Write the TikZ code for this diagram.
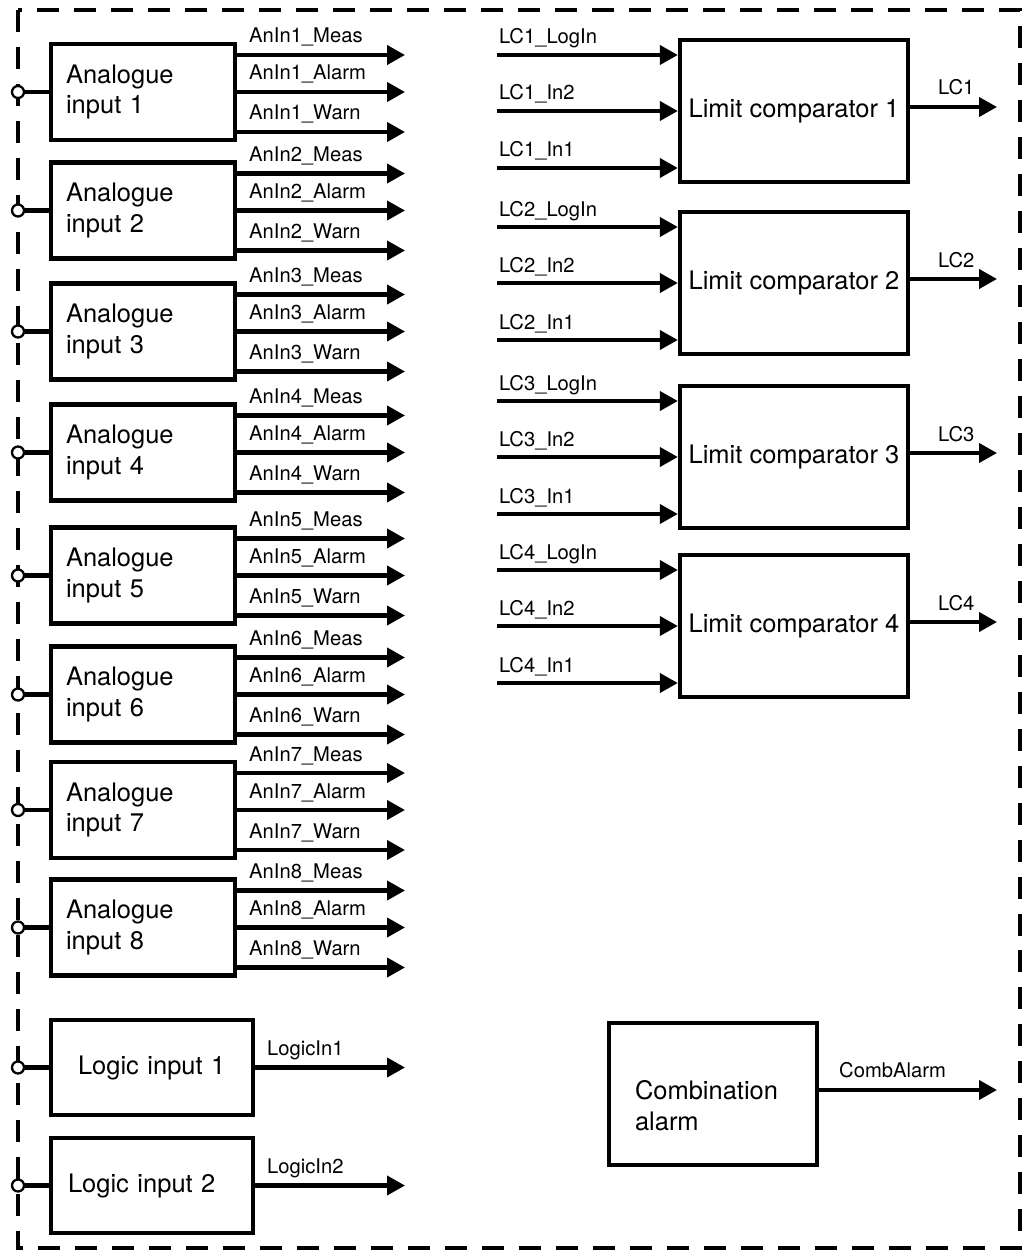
\documentclass[tikz,border=0pt]{standalone}
\usepackage{fontspec}
\setmainfont{TeX Gyre Heros}
\usetikzlibrary{arrows.meta}

\begin{document}
\begin{tikzpicture}[x=0.02cm, y=-0.02cm, line width=2.3pt,
  blk/.style={draw,line width=2.5pt,inner sep=0pt,font=\fontsize{14.5}{17.5}\selectfont},
  anbox/.style={blk,minimum width=3.68cm,minimum height=1.92cm,text width=3.08cm,align=left},
  lcbox/.style={blk,minimum width=4.56cm,minimum height=2.84cm,align=center},
  lgbox/.style={blk,minimum width=4.04cm,minimum height=1.9cm,align=center},
  sig/.style={-{Triangle[length=0.36cm,width=0.38cm]}},
  lbl/.style={anchor=base west,inner sep=0pt,font=\fontsize{11.5}{13}\selectfont},
  term/.style={circle,draw,fill=white,line width=1.3pt,inner sep=0pt,minimum size=0.24cm}]
\useasboundingbox (0,0) rectangle (1026,1253);
% frame of the unit
\draw[line width=2.8pt,dash pattern=on 0.44cm off 0.3cm] (18,10) rectangle (1020,1248);
% analogue inputs
\foreach \i/\y in {1/92,2/210.5,3/331.5,4/452.5,5/575.5,6/694.5,7/810,8/927.5}{
  \node[anbox] (a\i) at (143,\y) {Analogue\\input \i};
  \node[term] (t\i) at (18,\y) {};
  \draw (t\i) -- (a\i);
  \coordinate (am\i) at (405,\y-37);
  \coordinate (aa\i) at (405,\y);
  \coordinate (aw\i) at (405,\y+40);
  \draw[sig] (a\i.east |- am\i) -- node[lbl,pos=0,xshift=0.2cm,yshift=0.24cm] {AnIn\i\_Meas} (am\i);
  \draw[sig] (a\i.east |- aa\i) -- node[lbl,pos=0,xshift=0.2cm,yshift=0.24cm] {AnIn\i\_Alarm} (aa\i);
  \draw[sig] (a\i.east |- aw\i) -- node[lbl,pos=0,xshift=0.2cm,yshift=0.24cm] {AnIn\i\_Warn} (aw\i);
}
% logic inputs
\node[lgbox,text width=2.96cm,align=left] (l1) at (152,1067.5) {Logic input 1};
\node[lgbox,text width=3.36cm,align=left] (l2) at (152,1185.5) {Logic input 2};
\foreach \i/\y in {1/1067.5,2/1185.5}{
  \node[term] (u\i) at (18,\y) {};
  \draw (u\i) -- (l\i);
  \coordinate (lq\i) at (405,\y);
  \draw[sig] (l\i) -- node[lbl,pos=0,xshift=0.2cm,yshift=0.24cm] {LogicIn\i} (lq\i);
}
% limit comparators
\foreach \i/\y in {1/111,2/283,3/457,4/626}{
  \node[lcbox] (lc\i) at (794,\y) {Limit comparator \i};
  \coordinate (lg\i) at (497,\y-56);
  \coordinate (lb\i) at (497,\y);
  \coordinate (la\i) at (497,\y+57);
  \coordinate (lo\i) at (997,\y-4);
  \draw[sig] (lg\i) -- node[lbl,pos=0,yshift=0.22cm] {LC\i\_LogIn} (lc\i.west |- lg\i);
  \draw[sig] (lb\i) -- node[lbl,pos=0,yshift=0.22cm] {LC\i\_In2} (lc\i.west |- lb\i);
  \draw[sig] (la\i) -- node[lbl,pos=0,yshift=0.22cm] {LC\i\_In1} (lc\i.west |- la\i);
  \draw[sig] (lc\i.east |- lo\i) -- node[lbl,pos=0,xshift=0.52cm,yshift=0.24cm] {LC\i} (lo\i);
}
% combination alarm
\node[blk,minimum width=4.16cm,minimum height=2.84cm,text width=3.12cm,align=left] (comb) at (713,1094) {\rule{0pt}{0.86cm}Combination\\alarm};
\coordinate (co) at (997,1090);
\draw[sig] (comb.east |- co) -- node[lbl,pos=0,xshift=0.36cm,yshift=0.26cm] {CombAlarm} (co);
\end{tikzpicture}
\end{document}
